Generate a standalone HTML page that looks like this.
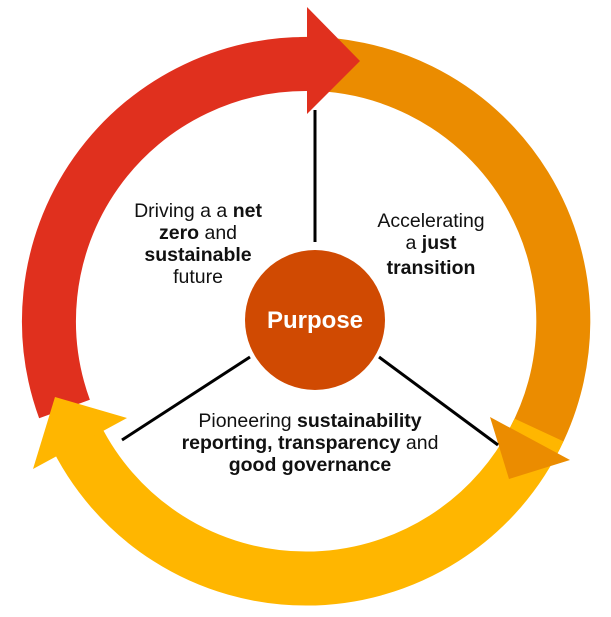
<!DOCTYPE html>
<html><head><meta charset="utf-8"><style>
html,body{margin:0;padding:0;background:#fff;}
svg{display:block;}
text{font-family:"Liberation Sans",Arial,sans-serif;font-size:19.5px;fill:#111;}
.b{font-weight:bold;}
</style></head><body>
<svg width="611" height="617" viewBox="0 0 611 617">
<g fill="none" stroke-width="54">
<path d="M300,64 A257,257 0 0 1 533,442" stroke="#eb8c00"/>
<path d="M539,430 A257,257 0 0 1 73,430" stroke="#ffb600"/>
<path d="M64.5,409 A257,257 0 0 1 308,64" stroke="#e0301e"/>
</g>
<polygon points="307,7 360,61 307,114" fill="#e0301e"/>
<polygon points="490,417 570,460 509,479" fill="#eb8c00"/>
<polygon points="55,397 127,418 33,469" fill="#ffb600"/>
<g stroke="#000" stroke-width="3">
<line x1="315" y1="110" x2="315" y2="242"/>
<line x1="250" y1="357" x2="122" y2="440"/>
<line x1="379" y1="357" x2="498" y2="445"/>
</g>
<circle cx="315" cy="320" r="70" fill="#d04a02"/>
<text x="315" y="328" text-anchor="middle" style="fill:#fff;font-weight:bold;font-size:24px">Purpose</text>
<g text-anchor="middle">
<text x="198" y="217">Driving a a <tspan class="b">net</tspan></text>
<text x="198" y="239"><tspan class="b">zero</tspan> and</text>
<text x="198" y="261" class="b">sustainable</text>
<text x="198" y="283">future</text>
<text x="431" y="227">Accelerating</text>
<text x="431" y="249">a <tspan class="b">just</tspan></text>
<text x="431" y="274" class="b">transition</text>
<text x="310" y="427">Pioneering <tspan class="b">sustainability</tspan></text>
<text x="310" y="449"><tspan class="b">reporting, transparency</tspan> and</text>
<text x="310" y="471" class="b">good governance</text>
</g>
</svg>
</body></html>
